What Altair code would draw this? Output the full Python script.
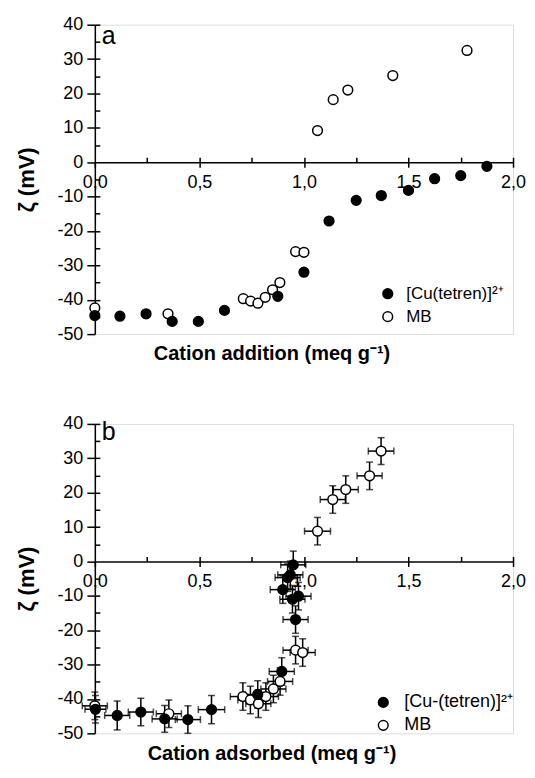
import altair as alt
import pandas as pd

FONT = "Liberation Sans"

CU_A = "[Cu(tetren)]²⁺"
CU_B = "[Cu-(tetren)]²⁺"
MB = "MB"
Y_TITLE = "\u00a0\u00a0\u00a0ζ (mV)"

# ---- panel a : zeta potential vs cation addition ----
a_cu_x = [0.00, 0.12, 0.245, 0.37, 0.495, 0.62, 0.875, 1.00, 1.12, 1.25, 1.37, 1.50, 1.625, 1.75, 1.875]
a_cu_y = [-44.6, -44.8, -44.1, -46.3, -46.3, -43.1, -39.0, -32.0, -17.1, -11.1, -9.7, -8.2, -4.8, -3.9, -1.2]
a_mb_x = [0.00, 0.35, 0.71, 0.745, 0.78, 0.815, 0.85, 0.885, 0.96, 1.00, 1.065, 1.14, 1.21, 1.425, 1.78]
a_mb_y = [-42.4, -44.1, -39.7, -40.4, -41.0, -39.3, -37.1, -35.0, -26.0, -26.2, 9.2, 18.2, 21.0, 25.2, 32.5]

# ---- panel b : zeta potential vs cation adsorbed (with error bars) ----
b_cu_x = [0.003, 0.107, 0.220, 0.334, 0.445, 0.558, 0.779, 0.894, 0.960, 0.974, 0.945, 0.899, 0.922, 0.935, 0.949]
b_cu_y = [-43.0, -44.8, -43.8, -45.8, -46.0, -43.1, -38.7, -32.0, -16.9, -10.1, -11.0, -8.2, -4.7, -3.9, -1.0]
b_cu_ex = [0.05, 0.06, 0.06, 0.06, 0.06, 0.063, 0.06, 0.06, 0.06, 0.06, 0.06, 0.06, 0.06, 0.06, 0.06]
b_cu_ey = [4.0, 4.2, 4.0, 3.9, 4.0, 4.1, 4.0, 4.0, 4.0, 4.0, 4.0, 4.0, 4.0, 4.0, 4.0]
b_mb_x = [0.00, 0.354, 0.708, 0.744, 0.782, 0.818, 0.854, 0.886, 0.960, 0.994, 1.065, 1.138, 1.200, 1.314, 1.369]
b_mb_y = [-42.0, -44.3, -39.3, -40.3, -41.4, -39.3, -37.1, -34.9, -25.8, -26.5, 8.8, 18.0, 20.9, 24.9, 32.1]
b_mb_ex = [0.06, 0.06, 0.06, 0.06, 0.06, 0.06, 0.06, 0.06, 0.06, 0.06, 0.062, 0.06, 0.06, 0.06, 0.061]
b_mb_ey = [4.0, 4.0, 4.0, 4.0, 4.0, 4.0, 4.0, 4.0, 4.0, 4.0, 4.0, 4.0, 4.0, 4.0, 3.9]

x_major = [0.0, 0.5, 1.0, 1.5, 2.0]
x_minor = [0.25, 0.5, 0.75, 1.0, 1.25, 1.5, 1.75, 2.0]
y_major = [-50, -40, -30, -20, -10, 0, 10, 20, 30, 40]
y_minor = [-45, -40, -35, -30, -25, -20, -15, -10, -5, 5, 10, 15, 20, 25, 30, 35, 40]

X_DOM = [0, 2]
Y_DOM = [-50, 40]
W, H = 419, 310


def make_df(cu_label, cx, cy, mx, my, cex=None, cey=None, mex=None, mey=None):
    rows = []
    for i in range(len(mx)):
        r = {"x": mx[i], "y": my[i], "series": MB}
        if mex is not None:
            r.update(xlo=mx[i] - mex[i], xhi=mx[i] + mex[i], ylo=my[i] - mey[i], yhi=my[i] + mey[i])
        rows.append(r)
    for i in range(len(cx)):
        r = {"x": cx[i], "y": cy[i], "series": cu_label}
        if cex is not None:
            r.update(xlo=cx[i] - cex[i], xhi=cx[i] + cex[i], ylo=cy[i] - cey[i], yhi=cy[i] + cey[i])
        rows.append(r)
    return pd.DataFrame(rows)


def panel(df, cu_label, letter, letter_base, xtitle, leg_offset, leg_font, leg_lo, errors):
    xs = alt.Scale(domain=X_DOM, nice=False, zero=False)
    ys = alt.Scale(domain=Y_DOM, nice=False, zero=False)
    off_bottom = -H * (0 - Y_DOM[0]) / (Y_DOM[1] - Y_DOM[0])
    off_top = -H * (Y_DOM[1] - 0) / (Y_DOM[1] - Y_DOM[0])

    xaxis = alt.Axis(
        values=x_major, offset=off_bottom, tickSize=5, tickWidth=1.5, tickColor="black",
        domainColor="black", domainWidth=1.5, labelFontSize=18, labelFont=FONT,
        labelColor="black", labelPadding=6, labelFlush=False, labelOverlap=False, labelBound=False,
        labelExpr="replace(format(datum.value, '.1f'), '.', ',')",
        title=xtitle, titleFont=FONT, titleFontSize=20, titleFontWeight="bold",
        titleColor="black", titlePadding=153, titleX=177, titleAlign="center", grid=False,
    )
    yaxis = alt.Axis(
        values=y_major, tickSize=8, tickWidth=1.5, tickColor="black",
        domainColor="black", domainWidth=1.5, labelFontSize=18, labelFont=FONT,
        labelColor="black", labelPadding=4, labelFlush=False, labelOverlap=False,
        labelExpr="datum.value + ''",
        title=Y_TITLE, titleFont=FONT, titleFontSize=22, titleFontWeight="bold",
        titleColor="black", titlePadding=18, grid=False,
    )
    base = alt.Chart(df)
    layers = []
    if errors:
        layers.append(
            base.mark_errorbar(color="black", thickness=1.5, ticks={"size": 7}).encode(
                x=alt.X("xlo:Q", scale=xs, axis=None), x2="xhi:Q",
                y=alt.Y("y:Q", scale=ys, axis=None))
        )
        layers.append(
            base.mark_errorbar(color="black", thickness=1.5, ticks={"size": 7}).encode(
                y=alt.Y("ylo:Q", scale=ys, axis=None), y2="yhi:Q",
                x=alt.X("x:Q", scale=xs, axis=None))
        )
    minor = base.mark_point(opacity=0).encode(
        x=alt.X("x:Q", scale=xs, axis=alt.Axis(
            orient="top", offset=off_top, values=x_minor, labels=False, domain=False,
            tickSize=5, tickWidth=1.5, tickColor="black", title=None, grid=False)),
        y=alt.Y("y:Q", scale=ys, axis=alt.Axis(
            orient="right", offset=-W, values=y_minor, labels=False, domain=False,
            tickSize=5, tickWidth=1.5, tickColor="black", title=None, grid=False)),
    )
    pts = base.mark_point(filled=True, stroke="black", strokeWidth=1.5, size=95, opacity=1).encode(
        x=alt.X("x:Q", scale=xs, axis=xaxis),
        y=alt.Y("y:Q", scale=ys, axis=yaxis),
        fill=alt.Fill("series:N",
                      scale=alt.Scale(domain=[cu_label, MB], range=["black", "white"]),
                      legend=alt.Legend(
                          orient="bottom-right", offset=leg_offset, title=None,
                          labelFont=FONT, labelFontSize=leg_font, labelColor="black",
                          symbolType="circle", symbolSize=95, symbolStrokeColor="black",
                          symbolStrokeWidth=1.5, labelOffset=leg_lo, rowPadding=5, padding=0)),
    )
    lbl = alt.Chart(alt.Data(values=[{"t": letter}])).mark_text(
        font=FONT, fontSize=25, align="left", baseline="alphabetic", color="black"
    ).encode(x=alt.value(7), y=alt.value(letter_base), text="t:N")
    layers += [minor, pts, lbl]
    return alt.layer(*layers).resolve_axis(x="independent", y="independent").properties(width=W, height=H)


df_a = make_df(CU_A, a_cu_x, a_cu_y, a_mb_x, a_mb_y)
df_b = make_df(CU_B, b_cu_x, b_cu_y, b_mb_x, b_mb_y, b_cu_ex, b_cu_ey, b_mb_ex, b_mb_ey)

pa = panel(df_a, CU_A, "a", 19, "Cation addition (meq g⁻¹)", 9, 17, 10, False)
pb = panel(df_b, CU_B, "b", 16, "Cation adsorbed (meq g⁻¹)", -1, 18, 12, True)

chart = alt.vconcat(pa, pb, spacing=49).resolve_scale(fill="independent").properties(
    padding={"left": 7, "top": 6, "right": 0, "bottom": 2}
).configure_view(stroke=None).configure(font=FONT)

chart.save("out.html", embed_options={"renderer": "svg", "actions": False})
